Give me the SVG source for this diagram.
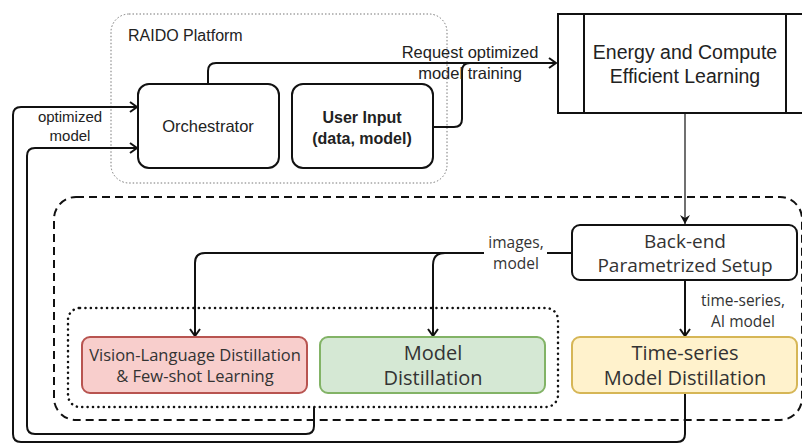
<svg xmlns="http://www.w3.org/2000/svg" width="802" height="445" viewBox="0 0 802 445">
<style>
.a{font-family:"Liberation Sans",Arial,sans-serif;fill:#222;text-anchor:middle}
.o{font-family:"Open Sans","Noto Sans",sans-serif;fill:#333;text-anchor:middle}
.box{fill:#fff;stroke:#111;stroke-width:2}
.ln{fill:none;stroke:#111;stroke-width:2}
</style>
<defs>
<marker id="open" markerWidth="10" markerHeight="12" refX="8" refY="6" orient="auto" markerUnits="userSpaceOnUse">
<path d="M1,1 L8,6 L1,11" fill="none" stroke="#111" stroke-width="2"/>
</marker>
<marker id="blk" markerWidth="10" markerHeight="10" refX="9" refY="5" orient="auto" markerUnits="userSpaceOnUse">
<path d="M0,0 L9,5 L0,10 L3,5 Z" fill="#111"/>
</marker>
</defs>
<rect width="802" height="445" fill="#fff"/>
<g id="raido-platform">
<rect x="111" y="14" width="336" height="169" rx="18" fill="none" stroke="#777" stroke-width="1" stroke-dasharray="1.5 2"/>
<text class="a" x="128" y="41" font-size="16" style="text-anchor:start">RAIDO Platform</text>
</g>
<g id="big-group">
<rect x="54" y="197" width="748" height="223" rx="22" fill="none" stroke="#111" stroke-width="2" stroke-dasharray="8 5"/>
</g>
<g id="distill-group">
<rect x="68" y="308" width="490" height="99" rx="12" fill="none" stroke="#111" stroke-width="2.5" stroke-dasharray="0.1 5.3" stroke-linecap="round"/>
</g>
<g id="connectors">
<path class="ln" d="M685,393 L685,434 Q685,442 677,442 L21,442 Q13,442 13,434 L13,115 Q13,107 21,107 L137,107" marker-end="url(#open)"/>
<path class="ln" d="M314,407 L314,426 Q314,434 306,434 L35,434 Q27,434 27,426 L27,156 Q27,148 35,148 L137,148" marker-end="url(#open)"/>
<path class="ln" d="M208,84 L208,71 Q208,63 216,63 L556,63" marker-end="url(#open)"/>
<path class="ln" d="M433,127 L454,127 Q462,127 462,119 L462,71 Q462,63 470,63"/>
<path fill="none" stroke="#111" stroke-width="1.2" d="M685,113 L685,224" marker-end="url(#blk)"/>
<path class="ln" d="M572,253 L205,253 Q195,253 195,263 L195,336" marker-end="url(#open)"/>
<path class="ln" d="M445,253 Q433,253 433,265 L433,336" marker-end="url(#open)"/>
<path class="ln" d="M685,280 L685,336" marker-end="url(#open)"/>
<rect x="484" y="236" width="63" height="38" fill="#fff"/>
<text class="o" x="516" y="248" font-size="15.5">images,</text>
<text class="o" x="516" y="269" font-size="15.5">model</text>
<text class="o" x="743" y="306" font-size="15.5">time-series,</text>
<text class="o" x="743" y="327" font-size="15.5">AI model</text>
<text class="a" x="470" y="58" font-size="16.5">Request optimized</text>
<text class="a" x="470" y="79" font-size="16.5">model training</text>
<text class="a" x="70" y="122" font-size="15">optimized</text>
<text class="a" x="70" y="141" font-size="15">model</text>
</g>
<g id="orchestrator">
<rect class="box" x="138" y="84" width="141" height="84" rx="11"/>
<text class="a" x="208" y="132" font-size="16.5">Orchestrator</text>
</g>
<g id="user-input">
<rect class="box" x="292" y="84" width="141" height="84" rx="11"/>
<text class="a" x="362" y="123" font-size="16" font-weight="bold">User Input</text>
<text class="a" x="362" y="144" font-size="16" font-weight="bold">(data, model)</text>
</g>
<g id="energy">
<rect class="box" x="558" y="14" width="250" height="99"/>
<line x1="584" y1="14" x2="584" y2="113" stroke="#111" stroke-width="2"/>
<line x1="786" y1="14" x2="786" y2="113" stroke="#111" stroke-width="2"/>
<text class="a" x="685" y="59" font-size="19.5">Energy and Compute</text>
<text class="a" x="685" y="83" font-size="19.5">Efficient Learning</text>
</g>
<g id="backend">
<rect class="box" x="572" y="225" width="225" height="55" rx="8"/>
<text class="o" x="685" y="248" font-size="19">Back-end</text>
<text class="o" x="685" y="272" font-size="19">Parametrized Setup</text>
</g>
<g id="vl-distill">
<rect x="82" y="337" width="225" height="56" rx="8" fill="#f8cecc" stroke="#b85450" stroke-width="2"/>
<text class="o" x="195" y="360.5" font-size="16.5">Vision-Language Distillation</text>
<text class="o" x="195" y="381.5" font-size="16.5">&amp; Few-shot Learning</text>
</g>
<g id="model-distill">
<rect x="320" y="337" width="225" height="56" rx="8" fill="#d5e8d4" stroke="#82b366" stroke-width="2"/>
<text class="o" x="433" y="360" font-size="20">Model</text>
<text class="o" x="433" y="385" font-size="20">Distillation</text>
</g>
<g id="ts-distill">
<rect x="572" y="337" width="225" height="56" rx="8" fill="#fff2cc" stroke="#d6b656" stroke-width="2"/>
<text class="o" x="685" y="360" font-size="20">Time-series</text>
<text class="o" x="685" y="385" font-size="20">Model Distillation</text>
</g>
</svg>
